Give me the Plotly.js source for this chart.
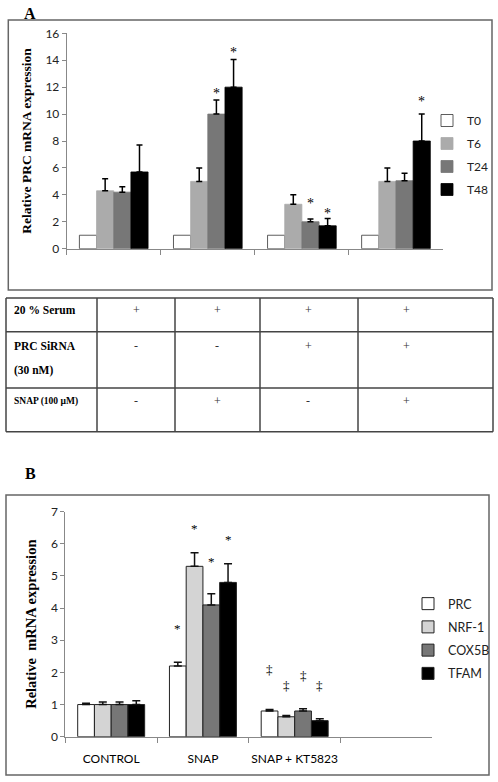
<!DOCTYPE html>
<html><head><meta charset="utf-8">
<script src="https://cdn.plot.ly/plotly-3.0.1.min.js"></script>
<style>html,body{margin:0;padding:0;background:#fff;}#chart{width:498px;height:782px;}</style>
</head><body><div id="chart"></div>
<script>
// ---------- Panel A data ----------
const conditionsA = ["C1", "C2", "C3", "C4"];
const seriesA = ["T0", "T6", "T24", "T48"];
const valuesT0 = [1, 1, 1, 1];
const valuesT6 = [4.3, 5.0, 3.3, 5.0];
const valuesT24 = [4.2, 10.0, 2.0, 5.05];
const valuesT48 = [5.7, 12.0, 1.7, 8.0];
const errT0 = [0, 0, 0, 0];
const errT6 = [0.9, 1.0, 0.7, 1.0];
const errT24 = [0.4, 1.05, 0.2, 0.55];
const errT48 = [2.0, 2.05, 0.55, 2.0];
const starT0 = [null, null, null, null];
const starT6 = [null, null, null, null];
const starT24 = [null, 11.5, 3.37, null];
const starT48 = [null, 14.6, 2.6, 10.9];
const yTicksA = [0, 2, 4, 6, 8, 10, 12, 14, 16];

// ---------- Table data ----------
const tableRowLabels = [["20 % Serum"], ["PRC SiRNA", "(30 nM)"], ["SNAP (100 µM)"]];
const serumRow = ["+", "+", "+", "+"];
const sirnaRow = ["-", "-", "+", "+"];
const snapRow = ["-", "+", "-", "+"];

// ---------- Panel B data ----------
const conditionsB = ["CONTROL", "SNAP", "SNAP + KT5823"];
const seriesB = ["PRC", "NRF-1", "COX5B", "TFAM"];
const valuesPRC = [1.0, 2.2, 0.8];
const valuesNRF1 = [1.0, 5.3, 0.62];
const valuesCOX5B = [1.0, 4.1, 0.8];
const valuesTFAM = [1.0, 4.8, 0.5];
const errPRC = [0.04, 0.12, 0.05];
const errNRF1 = [0.08, 0.42, 0.04];
const errCOX5B = [0.08, 0.35, 0.07];
const errTFAM = [0.12, 0.58, 0.06];
const markSymbolB = ["", "*", "‡"];
const markPRC = [null, 3.37, 2.1];
const markNRF1 = [null, 6.48, 1.58];
const markCOX5B = [null, 5.45, 1.91];
const markTFAM = [null, 6.12, 1.58];
const yTicksB = [0, 1, 2, 3, 4, 5, 6, 7];

// ---------- styles ----------
const W = 498, H = 782;
const px = v => v / W;
const py = v => 1 - v / H;
const SANS = "Lato, 'Open Sans', sans-serif";
const SERIF = "'Liberation Serif', 'Times New Roman', serif";
const colorsA = ["#ffffff", "#ababab", "#777777", "#000000"];
const lineA = ["#333333", "#ababab", "#777777", "#000000"];
const colorsB = ["#ffffff", "#d4d4d4", "#777777", "#000000"];
const BARGAP = 0.27;

const valsA = [valuesT0, valuesT6, valuesT24, valuesT48];
const errsA = [errT0, errT6, errT24, errT48];
const starsA = [starT0, starT6, starT24, starT48];
const valsB = [valuesPRC, valuesNRF1, valuesCOX5B, valuesTFAM];
const errsB = [errPRC, errNRF1, errCOX5B, errTFAM];
const marksB = [markPRC, markNRF1, markCOX5B, markTFAM];

const traces = [];
seriesA.forEach((name, i) => {
  traces.push({
    type: "bar", name: name, x: conditionsA, y: valsA[i], xaxis: "x", yaxis: "y",
    legend: "legend", legendgroup: "a" + i,
    marker: {color: colorsA[i], line: {color: lineA[i], width: 0.8}},
    error_y: {type: "data", symmetric: false, array: errsA[i], arrayminus: errsA[i].map(() => 0),
      visible: i > 0, color: "#000", thickness: 1.5, width: 3},
    hoverinfo: "skip"
  });
});
seriesB.forEach((name, i) => {
  traces.push({
    type: "bar", name: name, x: conditionsB, y: valsB[i], xaxis: "x2", yaxis: "y2",
    legend: "legend2", legendgroup: "b" + i,
    marker: {color: colorsB[i], line: {color: "#222", width: 1}},
    error_y: {type: "data", symmetric: false, array: errsB[i], arrayminus: errsB[i].map(() => 0),
      color: "#111", thickness: 1.5, width: 4},
    hoverinfo: "skip"
  });
});

const annotations = [];
const barOffset = (i, n) => -(1 - BARGAP) / 2 + (i + 0.5) * (1 - BARGAP) / n;
starsA.forEach((arr, i) => arr.forEach((v, c) => {
  if (v !== null) annotations.push({xref: "x", yref: "y", x: c + barOffset(i, 4), y: v, text: "*",
    showarrow: false, font: {family: SERIF, size: 14, color: "#000"}, xanchor: "center", yanchor: "middle"});
}));
marksB.forEach((arr, i) => arr.forEach((v, c) => {
  if (v !== null) annotations.push({xref: "x2", yref: "y2", x: c + barOffset(i, 4), y: v, text: markSymbolB[c],
    showarrow: false, font: {family: SERIF, size: 13, color: "#000"}, xanchor: "center", yanchor: "middle"});
}));
// panel letters
annotations.push({xref: "paper", yref: "paper", x: px(30), y: py(13), text: "<b>A</b>", showarrow: false,
  xanchor: "center", yanchor: "middle", font: {family: SERIF, size: 16, color: "#000"}});
annotations.push({xref: "paper", yref: "paper", x: px(30), y: py(473), text: "<b>B</b>", showarrow: false,
  xanchor: "center", yanchor: "middle", font: {family: SERIF, size: 16, color: "#000"}});

// table
const tRows = [298, 331.7, 388, 431.7], tCols = [6, 97, 175, 260, 358, 493];
const signX = [136, 217, 308, 406];
const rowTextY = [310, 346, 401];
const rowSizes = [11.5, 11.5, 9.5];
const tableRows = [serumRow, sirnaRow, snapRow];
tableRowLabels.forEach((lines, r) => {
  lines.forEach((lbl, k) => {
    annotations.push({xref: "paper", yref: "paper", x: px(12), y: py(rowTextY[r] + k * 24), text: "<b>" + lbl + "</b>",
      showarrow: false, xanchor: "left", yanchor: "middle", align: "left",
      font: {family: SERIF, size: rowSizes[r], color: "#000"}});
  });
  tableRows[r].forEach((s, c) => {
    annotations.push({xref: "paper", yref: "paper", x: px(signX[c]), y: py(rowTextY[r]), text: s,
      showarrow: false, xanchor: "center", yanchor: "middle", font: {family: SERIF, size: 12, color: "#333"}});
  });
});

const shapes = [];
// panel boxes
shapes.push({type: "rect", xref: "paper", yref: "paper", x0: px(8.3), x1: px(492), y0: py(290), y1: py(20),
  line: {color: "#666", width: 1.5}});
shapes.push({type: "rect", xref: "paper", yref: "paper", x0: px(6), x1: px(489), y0: py(775), y1: py(495),
  line: {color: "#666", width: 1.5}});
// table lines
tRows.forEach(y => shapes.push({type: "line", xref: "paper", yref: "paper", x0: px(tCols[0]), x1: px(tCols[5]),
  y0: py(y), y1: py(y), line: {color: "#444", width: 1.5}}));
tCols.forEach(x => shapes.push({type: "line", xref: "paper", yref: "paper", x0: px(x), x1: px(x),
  y0: py(tRows[0]), y1: py(tRows[3]), line: {color: "#444", width: 1.5}}));

const axisCommon = {showgrid: false, zeroline: false, showline: true, linecolor: "#888", linewidth: 1,
  ticks: "outside", tickcolor: "#888", ticklen: 4, fixedrange: true};

const layout = {
  width: W, height: H, margin: {l: 0, r: 0, t: 0, b: 0},
  paper_bgcolor: "#fff", plot_bgcolor: "rgba(0,0,0,0)",
  barmode: "group", bargap: BARGAP, bargroupgap: 0,
  showlegend: true,
  xaxis: Object.assign({}, axisCommon, {domain: [px(66.7), px(443)], anchor: "y", type: "category",
    categoryorder: "array", categoryarray: conditionsA, range: [-0.5, 3.5], tickson: "boundaries",
    ticklen: 5, showticklabels: false}),
  yaxis: Object.assign({}, axisCommon, {domain: [py(248.7), py(33.3)], anchor: "x", range: [0, 16],
    tickvals: yTicksA, tickfont: {family: SANS, size: 12, color: "#222"},
    title: {text: "<b>Relative PRC mRNA expression</b>", font: {family: SERIF, size: 13.5, color: "#000"}, standoff: 10}}),
  xaxis2: Object.assign({}, axisCommon, {domain: [px(65.3), px(432.3)], anchor: "y2", type: "category",
    categoryorder: "array", categoryarray: conditionsB, range: [-0.5, 3.5], tickson: "boundaries",
    ticklen: 5, tickangle: 0, ticklabelstandoff: 11, tickfont: {family: SANS, size: 12, color: "#000"}}),
  yaxis2: Object.assign({}, axisCommon, {domain: [py(736.7), py(511.7)], anchor: "x2", range: [0, 7],
    tickvals: yTicksB, tickfont: {family: SANS, size: 12, color: "#222"},
    title: {text: "<b>Relative  mRNA expression</b>", font: {family: SERIF, size: 14.5, color: "#000"}, standoff: 10}}),
  legend: {x: px(427), xanchor: "left", y: py(106), yanchor: "top", bgcolor: "rgba(0,0,0,0)",
    font: {family: SANS, size: 12, color: "#222"}, traceorder: "grouped", tracegroupgap: 4,
    itemclick: false, itemdoubleclick: false},
  legend2: {x: px(408), xanchor: "left", y: py(589), yanchor: "top", bgcolor: "rgba(0,0,0,0)",
    font: {family: SANS, size: 12.5, color: "#222"}, traceorder: "grouped", tracegroupgap: 4,
    itemclick: false, itemdoubleclick: false},
  annotations: annotations, shapes: shapes
};

Plotly.newPlot("chart", traces, layout, {displayModeBar: false, staticPlot: true});
</script></body></html>
